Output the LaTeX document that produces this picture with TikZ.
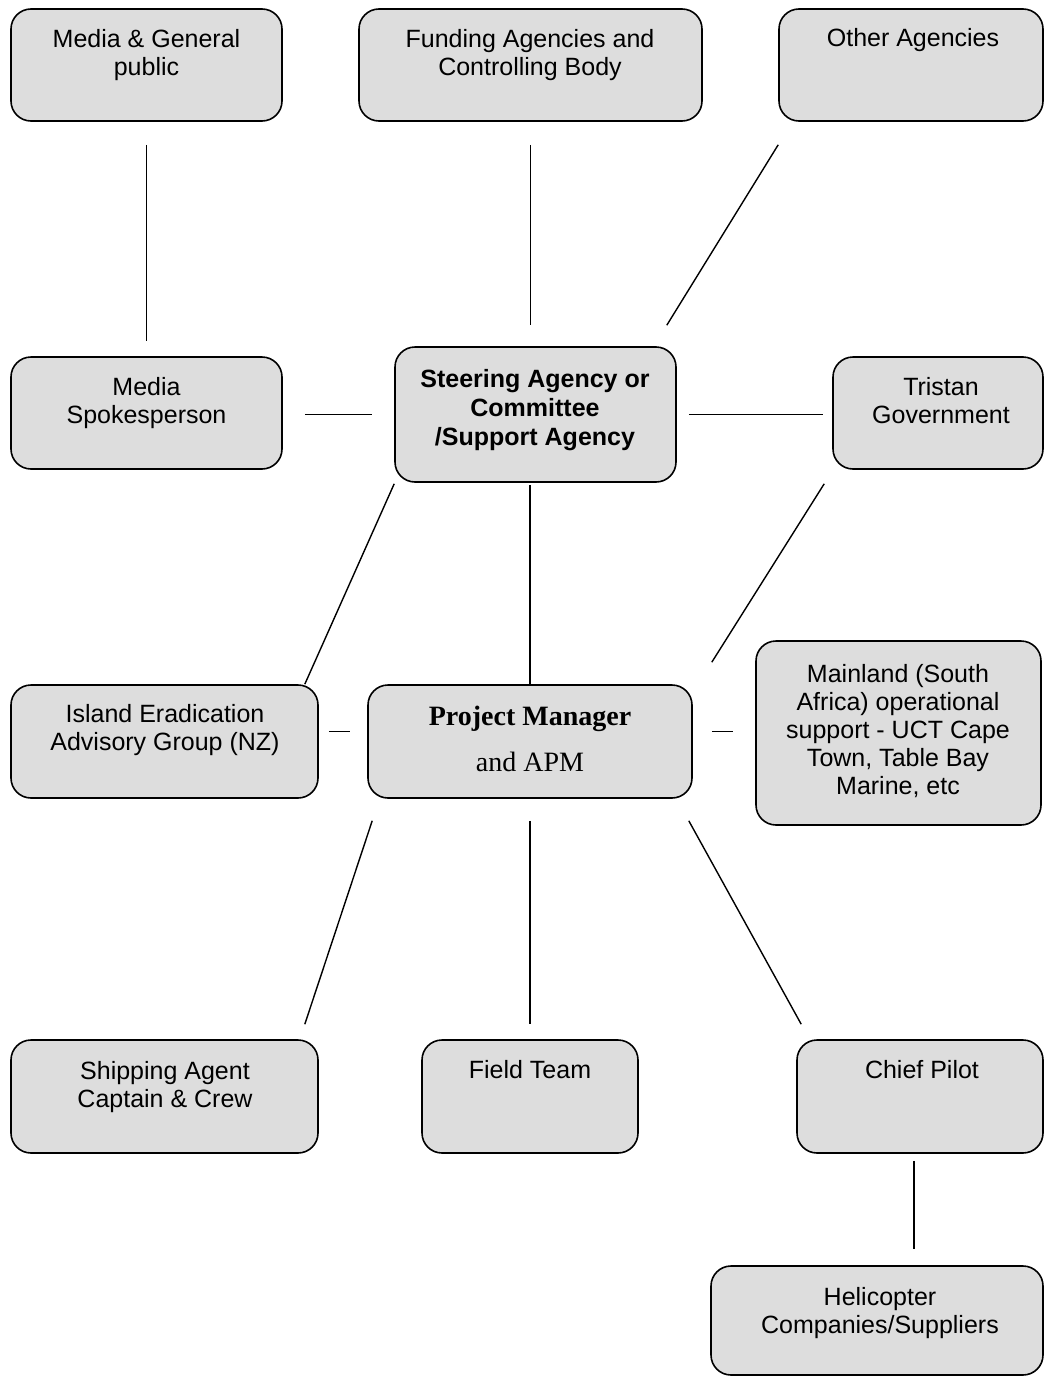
\documentclass[tikz,border=0pt]{standalone}
\usepackage{fontspec}
\setmainfont{Liberation Sans}
\newfontfamily\pmfont{Liberation Serif}
\usetikzlibrary{fit,calc}
\definecolor{boxgray}{RGB}{221,221,221}

\begin{document}
\begin{tikzpicture}[x=0.5pt, y=-0.5pt, font=\fontsize{12.5}{14}\selectfont,
  box/.style={draw, line width=0.8pt, rounded corners=10pt, fill=boxgray, inner sep=0pt},
  txt/.style={align=center, inner sep=0pt, anchor=north},
  link/.style={line width=0.7pt}]
  \useasboundingbox (0,0) rectangle (1044,1376);

  % Top row
  \node[box, fit={(11,9) (282,121)}] (media) {};
  \node[txt] (mediat) at (146.5,29) {Media \& General\\public};
  \node[box, fit={(359,9) (702,121)}] (funding) {};
  \node[txt] (fundingt) at (530,29) {Funding Agencies and\\Controlling Body};
  \node[box, fit={(779,9) (1043,121)}] (other) {};
  \node[txt] (othert) at (913,28) {Other Agencies};

  % Second row
  \node[box, fit={(11,357) (282,469)}] (spokes) {};
  \node[txt] (spokest) at (146.5,377) {Media\\Spokesperson};
  \node[box, fit={(395,347) (676,482)}] (steering) {};
  \node[txt, font=\fontsize{12.5}{14.5}\selectfont\bfseries] (steeringt) at (535,369)
    {Steering Agency or\\Committee\\/Support Agency};
  \node[box, fit={(833,357) (1043,469)}] (tristan) {};
  \node[txt] (tristant) at (941,377) {Tristan\\Government};

  % Third row
  \node[box, fit={(11,685) (318,798)}] (ieag) {};
  \node[txt] (ieagt) at (165,704) {Island Eradication\\Advisory Group (NZ)};
  \node[box, fit={(368,685) (692,798)}] (pm) {};
  \node[txt, font=\fontsize{14}{16}\pmfont] (pmt) at (530,706)
    {\bfseries Project Manager\\[7pt]and APM};
  \node[box, fit={(756,641) (1041,825)}] (mainland) {};
  \node[txt] (mainlandt) at (898,664)
    {Mainland (South\\Africa) operational\\support - UCT Cape\\Town, Table Bay\\Marine, etc};

  % Bottom rows
  \node[box, fit={(11,1040) (318,1153)}] (shipping) {};
  \node[txt] (shippingt) at (165,1061) {Shipping Agent\\Captain \& Crew};
  \node[box, fit={(422,1040) (638,1153)}] (field) {};
  \node[txt] (fieldt) at (530,1060) {Field Team};
  \node[box, fit={(797,1040) (1043,1153)}] (chief) {};
  \node[txt] (chieft) at (922,1060) {Chief Pilot};
  \node[box, fit={(711,1266) (1043,1375)}] (heli) {};
  \node[txt] (helit) at (880,1287) {Helicopter\\Companies/Suppliers};

  % Connectors
  \draw[link] ($(media.south)+(0,23)$) -- ($(spokes.north)+(0,-15)$);
  \draw[link] ($(funding.south)+(0,23)$) -- ($(funding.south |- steering.north)+(0,-21)$);
  \draw[link] ($(other.south west)+(0,23)$) -- ($(steering.north east)+(-10,-21)$);
  \draw[link] ($(spokes.east)+(22,1.5)$) -- ($(steering.west)+(-22,0)$);
  \draw[link] ($(steering.east)+(12,0)$) -- ($(tristan.west)+(-9,1.5)$);
  \draw[link] ($(steering.south west)+(0,1)$) -- ($(ieag.north east)+(-14,0)$);
  \draw[link] ($(steering.south -| pm.north)+(0,2)$) -- (pm.north);
  \draw[link] ($(tristan.south west)+(-8,14)$) -- ($(pm.north east)+(19,-22)$);
  \draw[link] ($(ieag.east)+(10,-10)$) -- ($(pm.west)+(-17,-10)$);
  \draw[link] ($(pm.east)+(19,-10)$) -- ($(mainland.west)+(-22,-1.5)$);
  \draw[link] ($(pm.south west)+(5,22)$) -- ($(shipping.north east)+(-14,-15)$);
  \draw[link] ($(pm.south)+(0,22)$) -- ($(field.north)+(0,-15)$);
  \draw[link] ($(pm.south east)+(-4,22)$) -- ($(chief.north west)+(5,-15)$);
  \draw[link] ($(chief.south)+(-6,7)$) -- ($(heli.north)+(37,-16)$);
\end{tikzpicture}
\end{document}
